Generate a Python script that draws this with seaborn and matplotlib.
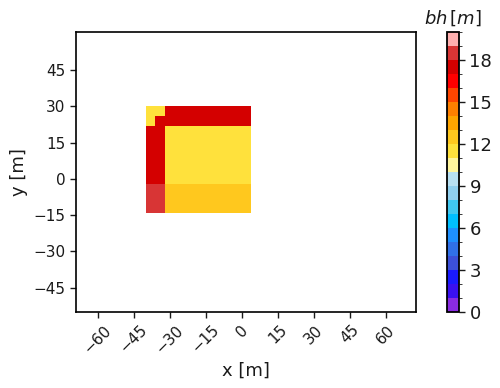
import matplotlib
matplotlib.use("Agg")
import matplotlib.pyplot as plt
import numpy as np
import seaborn as sns
from matplotlib.colors import ListedColormap, BoundaryNorm

# building height grid (4 m cells), rows from south to north
x_edges = np.arange(-40, 5, 4)
y_edges = np.arange(-14, 31, 4)
heights = [
    [18.5, 18.5, 12.5, 12.5, 12.5, 12.5, 12.5, 12.5, 12.5, 12.5, 12.5],
    [18.5, 18.5, 12.5, 12.5, 12.5, 12.5, 12.5, 12.5, 12.5, 12.5, 12.5],
    [18.5, 18.5, 12.5, 12.5, 12.5, 12.5, 12.5, 12.5, 12.5, 12.5, 12.5],
    [17.5, 17.5, 11.5, 11.5, 11.5, 11.5, 11.5, 11.5, 11.5, 11.5, 11.5],
    [17.5, 17.5, 11.5, 11.5, 11.5, 11.5, 11.5, 11.5, 11.5, 11.5, 11.5],
    [17.5, 17.5, 11.5, 11.5, 11.5, 11.5, 11.5, 11.5, 11.5, 11.5, 11.5],
    [17.5, 17.5, 11.5, 11.5, 11.5, 11.5, 11.5, 11.5, 11.5, 11.5, 11.5],
    [17.5, 17.5, 11.5, 11.5, 11.5, 11.5, 11.5, 11.5, 11.5, 11.5, 11.5],
    [17.5, 17.5, 11.5, 11.5, 11.5, 11.5, 11.5, 11.5, 11.5, 11.5, 11.5],
    [11.5, 17.5, 17.5, 17.5, 17.5, 17.5, 17.5, 17.5, 17.5, 17.5, 17.5],
    [11.5, 11.5, 17.5, 17.5, 17.5, 17.5, 17.5, 17.5, 17.5, 17.5, 17.5],
]

# discrete colour levels 0..20 m
levels = list(range(0, 21))
level_colors = [
    "#8a2be2", "#3a10f0", "#1a1aff", "#3c50d8", "#3070e8",
    "#1e90ff", "#00bfff", "#40c8f0", "#90cfee", "#b8e0f2",
    "#fff59d", "#ffe13c", "#ffc81e", "#ffa500", "#ff8000",
    "#ff4500", "#ff0000", "#d40000", "#d83535", "#ffb0b0",
]
x_ticks = list(range(-60, 61, 15))
y_ticks = list(range(-45, 46, 15))
cbar_ticks = list(range(0, 19, 3))

sns.set_style("white")
plt.rcParams["font.family"] = ["DejaVu Sans"]
plt.rcParams["text.color"] = "#1a1a1a"
plt.rcParams["axes.labelcolor"] = "#1a1a1a"
plt.rcParams["xtick.color"] = "#1a1a1a"
plt.rcParams["ytick.color"] = "#1a1a1a"

cmap = ListedColormap(level_colors)
norm = BoundaryNorm(levels, cmap.N)

fig = plt.figure(figsize=(5.0, 3.88), dpi=100)
ax = fig.add_axes([0.152, 0.196, 0.68, 0.7215])
cax = fig.add_axes([0.894, 0.196, 0.024, 0.7215])

mesh = ax.pcolormesh(x_edges, y_edges, np.array(heights), cmap=cmap, norm=norm)
ax.set_xlim(-69, 72.5)
ax.set_ylim(-55, 60.7)
ax.set_xticks(x_ticks)
ax.set_yticks(y_ticks)
ax.tick_params(axis="both", which="major", length=4, width=1, labelsize=11,
               bottom=True, left=True)
plt.setp(ax.get_xticklabels(), rotation=45)
ax.set_xlabel("x [m]", fontsize=13)
ax.set_ylabel("y [m]", fontsize=13)
for sp in ax.spines.values():
    sp.set_color("black")
    sp.set_linewidth(1.2)

cb = fig.colorbar(mesh, cax=cax, ticks=cbar_ticks)
cb.outline.set_linewidth(1.3)
cb.outline.set_edgecolor("black")
cax.tick_params(labelsize=13, length=4, width=1, right=True)
cax.set_title(r"$bh\,[m]$", fontsize=13)

fig.savefig("out.png", dpi=100)
